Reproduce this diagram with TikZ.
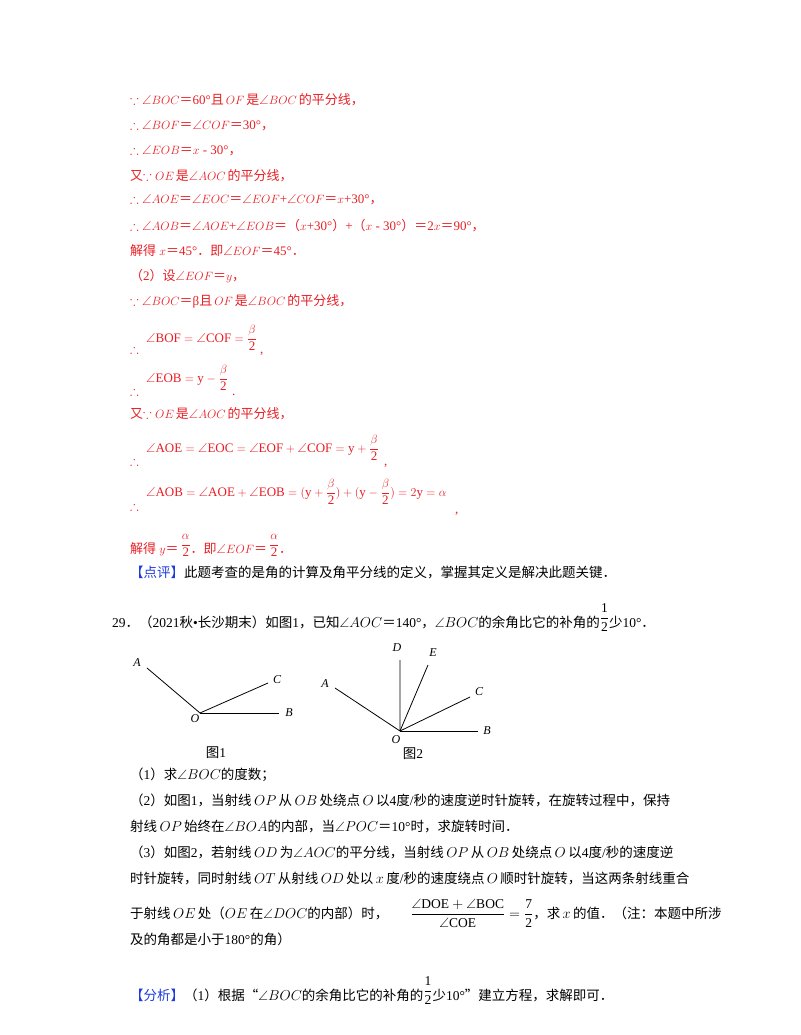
\documentclass[tikz,border=0pt]{standalone}
\usepackage{amssymb}
\usepackage{fontspec}
\setmainfont{Liberation Serif}
\newfontfamily\cjk{Noto Sans CJK SC}
\XeTeXinterchartokenstate=1
\newXeTeXintercharclass\cjkclass
\newcount\cc
\cc="4E00 \loop \XeTeXcharclass\cc=\cjkclass \advance\cc 1 \ifnum\cc<"A000 \repeat
\cc="FF00 \loop \XeTeXcharclass\cc=\cjkclass \advance\cc 1 \ifnum\cc<"FF60 \repeat
\cc="3000 \loop \XeTeXcharclass\cc=\cjkclass \advance\cc 1 \ifnum\cc<"3040 \repeat
\XeTeXcharclass"201C=\cjkclass \XeTeXcharclass"201D=\cjkclass
\XeTeXinterchartoks 0 \cjkclass={\begingroup\cjk}
\XeTeXinterchartoks 4095 \cjkclass={\begingroup\cjk}
\XeTeXinterchartoks \cjkclass 0={\endgroup}
\XeTeXinterchartoks \cjkclass 4095={\endgroup}
\definecolor{rd}{RGB}{232,30,36}
\definecolor{bl}{RGB}{30,60,220}
\newcommand\dfr[2]{\displaystyle\frac{\mathrm{#1}}{\mathrm{#2}}}
\newcommand\hfr[2]{\raisebox{5pt}{$\displaystyle\frac{\mathrm{#1}}{\mathrm{#2}}$}}
\begin{document}
\begin{tikzpicture}[x=1pt,y=-1pt,
  ln/.style={anchor=base west,inner sep=0pt,font=\fontsize{13}{15}\selectfont},
  r/.style={ln,text=rd},
  k/.style={ln,text=black,font=\fontsize{13.5}{15}\selectfont},
  lab/.style={inner sep=0pt,font=\fontsize{12}{14}\selectfont\itshape},
  ray/.style={line width=0.8pt}]
\useasboundingbox (0,0) rectangle (800,1035);
\node[r] (l1) at (130,105) {$\because\angle BOC$＝60°且$\,OF\,$是$\angle BOC\,$的平分线，};
\node[r] (l2) at (130,130) {$\therefore\angle BOF$＝$\angle COF$＝30°，};
\node[r] (l3) at (130,155) {$\therefore\angle EOB$＝$x$ - 30°，};
\node[r] (l4) at (130,180) {又$\because OE\,$是$\angle AOC\,$的平分线，};
\node[r] (l5) at (130,204) {$\therefore\angle AOE$＝$\angle EOC$＝$\angle EOF$+$\angle COF$＝$x$+30°，};
\node[r] (l6) at (130,230) {$\therefore\angle AOB$＝$\angle AOE$+$\angle EOB$＝（$x$+30°）+（$x$ - 30°）＝2$x$＝90°，};
\node[r] (l7) at (130,255) {解得 $x$＝45°．即$\angle EOF$＝45°．};
\node[r] (l8) at (130,280) {（2）设$\angle EOF$＝$y$，};
\node[r] (l9) at (130,305) {$\because\angle BOC$＝β且$\,OF\,$是$\angle BOC\,$的平分线，};
% formula lines
\node[r] (d1) at (130,353) {$\therefore$};
\node[r] (f1) at (146,342) {$\angle\mathrm{BOF}=\angle\mathrm{COF}=\dfr{\beta}{2}$};
\node[r] (c1) at (260,353) {,};
\node[r] (d2) at (130,395) {$\therefore$};
\node[r] (f2) at (146,382) {$\angle\mathrm{EOB}=\mathrm{y}-\dfr{\beta}{2}$};
\node[r] (c2) at (232,395) {.};
\node[r] (l10) at (130,418) {又$\because OE\,$是$\angle AOC\,$的平分线，};
\node[r] (d3) at (130,465) {$\therefore$};
\node[r] (f3) at (146,452) {$\angle\mathrm{AOE}=\angle\mathrm{EOC}=\angle\mathrm{EOF}+\angle\mathrm{COF}=\mathrm{y}+\dfr{\beta}{2}$};
\node[r] (c3) at (384,465) {,};
\node[r] (d4) at (130,510) {$\therefore$};
\node[r] (f4) at (146,496) {$\angle\mathrm{AOB}=\angle\mathrm{AOE}+\angle\mathrm{EOB}=(\mathrm{y}+\dfr{\beta}{2})+(\mathrm{y}-\dfr{\beta}{2})=2\mathrm{y}=\alpha$};
\node[r] (c4) at (455,513) {,};
\node[r] (l11) at (130,553) {解得 $y$＝\,\hfr{\alpha}{2}．即$\angle EOF$＝\,\hfr{\alpha}{2}．};
\node[k] (l12) at (130,577) {\textcolor{bl}{【点评】}此题考查的是角的计算及角平分线的定义，掌握其定义是解决此题关键．};
\node[k] (q29) at (112,627) {29．（2021秋\textbullet 长沙期末）如图1，已知$\angle AOC$＝140°，$\angle BOC$的余角比它的补角的\hfr{1}{2}少10°．};
% figure 1
\coordinate (O1) at (200,713);
\coordinate (A1) at (147,668);
\coordinate (C1) at (268,683);
\coordinate (B1) at (279,713);
\draw[ray] (A1) -- (O1) -- (C1);
\draw[ray] (O1) -- (B1);
\node[lab] (tA1) at (137,663) {A};
\node[lab] (tC1) at (277,680) {C};
\node[lab] (tB1) at (289,713) {B};
\node[lab] (tO1) at (195,719) {O};
\node[k,anchor=center] (g1) at (216,753) {图1};
% figure 2
\coordinate (O2) at (400,731);
\coordinate (A2) at (335,688);
\coordinate (D2) at (400,660);
\coordinate (E2) at (428,665);
\coordinate (C2) at (470,697);
\coordinate (B2) at (478,731);
\draw[ray] (A2) -- (O2) -- (D2);
\draw[ray] (O2) -- (E2);
\draw[ray] (O2) -- (C2);
\draw[ray] (O2) -- (B2);
\node[lab] (tA2) at (325,684) {A};
\node[lab] (tD2) at (397,648) {D};
\node[lab] (tE2) at (433,653) {E};
\node[lab] (tC2) at (479,692) {C};
\node[lab] (tB2) at (487,731) {B};
\node[lab] (tO2) at (396,740) {O};
\node[k,anchor=center] (g2) at (413,754) {图2};
% bottom text
\node[k] (b1) at (130,779) {（1）求$\angle BOC$的度数；};
\node[k] (b2) at (130,805) {（2）如图1，当射线$\,OP\,$从$\,OB\,$处绕点$\,O\,$以4度/秒的速度逆时针旋转，在旋转过程中，保持};
\node[k] (b3) at (130,831) {射线$\,OP\,$始终在$\angle BOA$的内部，当$\angle POC$＝10°时，求旋转时间．};
\node[k] (b4) at (130,857) {（3）如图2，若射线$\,OD\,$为$\angle AOC$的平分线，当射线$\,OP\,$从$\,OB\,$处绕点$\,O\,$以4度/秒的速度逆};
\node[k] (b5) at (130,883) {时针旋转，同时射线$\,OT\,$从射线$\,OD\,$处以$\,x\,$度/秒的速度绕点$\,O\,$顺时针旋转，当这两条射线重合};
\node[k] (b6) at (130,918) {于射线$\,OE\,$处（$OE\,$在$\angle DOC$的内部）时，\hspace{22pt}$\dfr{\angle DOE+\angle BOC}{\angle COE}=\dfr{7}{2}$，求$\,x\,$的值．（注：本题中所涉};
\node[k] (b7) at (130,944) {及的角都是小于180°的角）};
\node[k] (b8) at (130,1000) {\textcolor{bl}{【分析】}（1）根据“$\angle BOC$的余角比它的补角的\hfr{1}{2}少10°”建立方程，求解即可．};
\end{tikzpicture}
\end{document}
